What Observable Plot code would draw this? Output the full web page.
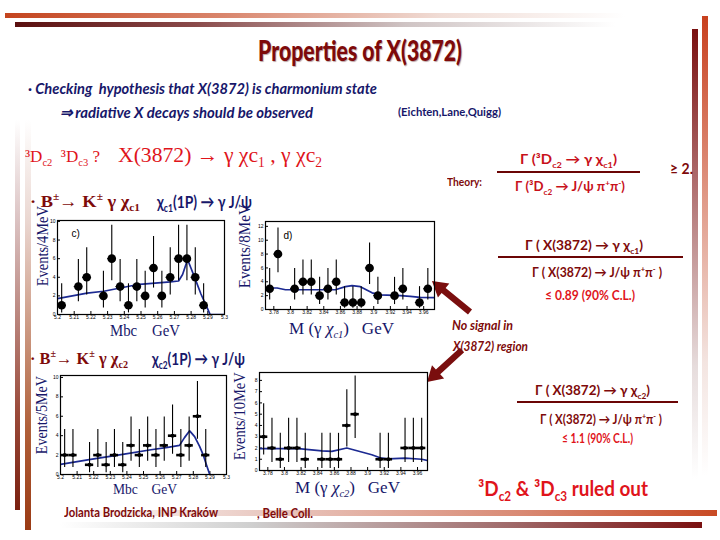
<!DOCTYPE html>
<html><head><meta charset="utf-8">
<script src="https://cdn.jsdelivr.net/npm/d3@7"></script>
<script src="https://cdn.jsdelivr.net/npm/@observablehq/plot@0.6"></script>
<style>
body{margin:0;background:#fff;}
#slide{position:relative;width:720px;height:540px;overflow:hidden;background:#fff;}
.t{position:absolute;white-space:nowrap;line-height:1.15;transform-origin:left center;}
.t sub,.t sup{font-size:0.62em;}
.deco{position:absolute;}
svg.panel{position:absolute;overflow:visible;}
</style></head><body><div id="slide"></div>
<script>
// ---------- DATA ----------
// panel c) B+- -> K+- gamma chi_c1, Mbc (GeV)
const cX  = [5.2025,5.2125,5.2175,5.2275,5.2325,5.2375,5.2425,5.2475,5.2525,5.2575,5.2625,5.2675,5.2725,5.2775,5.2825,5.2875];
const cN  = [1,3,4,2,6,3,1,3,2,5,2,4,6,6,4,1];
const cLo = [0.17,1.37,2.09,0.71,3.62,1.37,0.17,1.37,0.71,2.84,0.71,2.09,3.62,3.62,2.09,0.17];
const cHi = [3.3,5.92,7.16,4.64,9.58,5.92,3.3,5.92,4.64,8.38,4.64,7.16,9.58,9.58,7.16,3.3];
const cFitX = [5.2,5.2177,5.2277,5.2474,5.2675,5.2725,5.2749,5.2779,5.2799,5.2825,5.2859,5.2889,5.2914,5.3];
const cFitY = [1.7,2.3,2.5,3.2,3.5,3.6,4.3,5.9,5.0,3.8,2.2,1.0,0,0];
// panel d) M(gamma chi_c1) (GeV)
const dX  = [3.775,3.785,3.805,3.815,3.825,3.835,3.845,3.855,3.865,3.875,3.885,3.895,3.905,3.925,3.935,3.955,3.965];
const dN  = [3,8,3,4,4,2,3,4,1,1,1,6,2,2,3,1,3];
const dLo = [1.37,5.32,1.37,2.09,2.09,0.71,1.37,2.09,0.17,0.17,0.17,3.62,0.71,0.71,1.37,0.17,1.37];
const dHi = [5.92,11.77,5.92,7.16,7.16,4.64,5.92,7.16,3.3,3.3,3.3,9.58,4.64,4.64,5.92,3.3,5.92];
const dFitX = [3.77,3.784,3.794,3.854,3.866,3.874,3.884,3.898,3.908,3.932,3.944,3.956,3.973];
const dFitY = [3.1,3.1,2.85,2.85,3.3,3.45,3.3,2.4,2.1,2.0,1.9,1.75,1.7];
// panel e) B+- -> K+- gamma chi_c2, Mbc (GeV)
const eX  = [5.2025,5.2075,5.2175,5.2225,5.2275,5.2325,5.2375,5.2425,5.2475,5.2525,5.2575,5.2625,5.2675,5.2725,5.2775,5.2825,5.2875];
const eN  = [2,2,1,2,1,2,1,3,2,3,2,3,4,2,3,6,2];
const eLo = [0.71,0.71,0.17,0.71,0.17,0.71,0.17,1.37,0.71,1.37,0.71,1.37,2.09,0.71,1.37,3.62,0.71];
const eHi = [4.64,4.64,3.3,4.64,3.3,4.64,3.3,5.92,4.64,5.92,4.64,5.92,7.16,4.64,5.92,9.58,4.64];
const eFitX = [5.2,5.2182,5.2384,5.2545,5.2646,5.2717,5.2747,5.2778,5.2808,5.2838,5.2859,5.2879,5.2899];
const eFitY = [1.05,1.55,2.1,2.55,2.8,3.0,3.8,4.5,3.9,2.9,2.05,1.0,0];
// panel f) M(gamma chi_c2) (GeV)
const fX  = [3.775,3.785,3.795,3.805,3.815,3.825,3.845,3.855,3.865,3.875,3.885,3.915,3.925,3.945,3.955,3.965];
const fN  = [3,2,1,2,2,1,1,1,1,4,5,1,1,2,2,2];
const fLo = [1.37,0.71,0.17,0.71,0.71,0.17,0.17,0.17,0.17,2.09,2.84,0.17,0.17,0.71,0.71,0.71];
const fHi = [5.92,4.64,3.3,4.64,4.64,3.3,3.3,3.3,3.3,7.16,8.38,3.3,3.3,4.64,4.64,4.64];
const fFitX = [3.77,3.817,3.845,3.857,3.875,3.885,3.905,3.915,3.925,3.945,3.965,3.972];
const fFitY = [1.95,1.95,1.75,1.7,2.0,1.8,1.4,1.13,1.04,1.1,1.0,0.9];
// tick labels
const mbcTicks = [5.2,5.21,5.22,5.23,5.24,5.25,5.26,5.27,5.28,5.29,5.3];
const mTicks   = [3.78,3.8,3.82,3.84,3.86,3.88,3.9,3.92,3.94,3.96];
const yTicks10 = [0,2,4,6,8,10];
const yTicks12 = [0,2,4,6,8,10,12];
const yTicks8  = [0,1,2,3,4,5,6,7,8];

// ---------- slide ----------
const slide = document.getElementById("slide");
const DR = "#7e0a0a", RED = "#e0141b", NAVY = "#17176a";
const HW = "'Lato','Noto Sans',sans-serif", SER = "'Liberation Serif','DejaVu Serif',serif";

function deco(l,t,w,h,bg){const d=document.createElement("div");d.className="deco";
  Object.assign(d.style,{left:l+"px",top:t+"px",width:w+"px",height:h+"px",background:bg});slide.appendChild(d);}
deco(5,13,620,5,"linear-gradient(to right,#c4441e,#d9856c 35%,#f0dcd5 70%,rgba(255,255,255,0))");
deco(15,22,600,5,"linear-gradient(to right,#5a0f0f,#8a4a4a 30%,#cfc4c4 65%,rgba(255,255,255,0))");
deco(692,29,6,450,"linear-gradient(to bottom,#7a1010,#b07070 35%,#e6dcdc 75%,rgba(255,255,255,0))");
deco(702,16,6,460,"linear-gradient(to bottom,#c8401e,#e09a88 40%,#f3e4e0 75%,rgba(255,255,255,0))");
deco(15,120,5,390,"linear-gradient(to bottom,rgba(255,255,255,0),#dcc4c4 25%,#9a4a3a 75%,#7a2010)");
deco(25,120,6,410,"linear-gradient(to bottom,rgba(255,255,255,0),#ead6d0 25%,#b0603a 75%,#9a3a14)");
deco(60,510,657,6,"linear-gradient(to right,rgba(255,255,255,0),#eacbc4 30%,#d98a74 70%,#c84a24)");
deco(60,522,642,6,"linear-gradient(to right,rgba(255,255,255,0),#cfcfcf 30%,#a06a6a 70%,#7a1010)");

function txt(html,x1,x2,yc,size,color,font,weight,style,extra){
  const s=document.createElement("div");s.className="t";s.innerHTML=html;
  Object.assign(s.style,{fontSize:size+"px",color,fontFamily:font,fontWeight:weight||400,fontStyle:style||"normal",left:x1+"px",top:"0px"});
  if(extra)Object.assign(s.style,extra);
  slide.appendChild(s);
  const r=s.getBoundingClientRect();
  s.style.top=(yc-r.height/2)+"px";
  s.style.transform="scaleX("+((x2-x1)/r.width)+")";
}
function vtxt(html,cx,cy,len,size,color,font){
  const s=document.createElement("div");s.className="t";s.innerHTML=html;
  Object.assign(s.style,{fontSize:size+"px",color,fontFamily:font,left:"0px",top:"0px",transformOrigin:"center center"});
  slide.appendChild(s);
  const r=s.getBoundingClientRect();
  s.style.left=(cx-r.width/2)+"px";s.style.top=(cy-r.height/2)+"px";
  s.style.transform="rotate(-90deg) scaleX("+(len/r.width)+")";
}
function hbar(x1,x2,y,color){deco(x1,y-1,x2-x1,2,color);}

txt("Properties of X(3872)",258,462,50,28,DR,HW,900,"normal",{textShadow:"1px 1px 1px rgba(60,0,0,0.35)"});
txt("· Checking&nbsp; hypothesis that X(3872) is charmonium state",28,377,88,16,NAVY,HW,700,"italic");
txt("⇒ radiative X decays should be observed",60,313,112,16,NAVY,HW,700,"italic");
txt("(Eichten,Lane,Quigg)",398,501,112,12,NAVY,HW,700);
txt("³D<sub>c2</sub>&nbsp; ³D<sub>c3</sub> ?",25,100,158,17,RED,SER,400);
txt("X(3872) → γ χc<sub>1</sub> , γ χc<sub>2</sub>",118,322,157,22,RED,SER,400);
txt("· B<sup>±</sup>→ K<sup>±</sup> γ χ<sub>c1</sub>",30,140,203,17,DR,SER,700);
txt("χ<sub>c1</sub>(1P) → γ J/ψ",157,252,203,17,NAVY,HW,700);
txt("Mbc&nbsp;&nbsp;&nbsp; GeV",110,180,331,17,NAVY,SER,400);
txt("M (γ <i>χ<sub>c1</sub></i>)&nbsp;&nbsp; GeV",289,394,330,17,NAVY,SER,400);
txt("· B<sup>±</sup>→ K<sup>±</sup> γ χ<sub>c2</sub>",30,128,360,17,DR,SER,700);
txt("χ<sub>c2</sub>(1P) → γ J/ψ",152,245,360,17,NAVY,HW,700);
txt("Mbc&nbsp;&nbsp;&nbsp; GeV",113,177,490,15,NAVY,SER,400);
txt("M (γ <i>χ<sub>c2</sub></i>)&nbsp;&nbsp; GeV",295,400,489,16,NAVY,SER,400);
txt("Jolanta Brodzicka, INP Kraków",64,218,512,14,DR,HW,700);
txt(", Belle Coll.",257,313,513,14,DR,HW,700);
vtxt("Events/4MeV",43,246,80,16,NAVY,SER);
vtxt("Events/8MeV",245,246,84,16,NAVY,SER);
vtxt("Events/5MeV",42,415,78,16,NAVY,SER);
vtxt("Events/10MeV",240,416,88,16,NAVY,SER);

txt("Theory:",447,482,182,12,DR,HW,700);
txt("Γ (³D<sub>c2</sub> → γ χ<sub>c1</sub>)",520,617,161,13,"#c8101a",HW,700);
hbar(497,640,172,"#6b0505");
txt("Γ (³D<sub>c2</sub> → J/ψ π<sup>+</sup>π<sup>-</sup>)",515,625,188,13,"#c8101a",HW,700);
txt("≥ 2.",670,693,169,15,DR,HW,700);
txt("Γ ( X(3872) → γ χ<sub>c1</sub>)",525,643,247,13,DR,HW,700);
hbar(498,683,257,"#6b0505");
txt("Γ ( X(3872) → J/ψ π<sup>+</sup>π<sup>-</sup> )",532,662,273,13,DR,HW,700);
txt("≤ 0.89 (90% C.L.)",545,635,295,13,RED,HW,700);
txt("No signal in",452,513,325,13,DR,HW,700,"italic");
txt("X(3872) region",453,528,346,13,DR,HW,700,"italic");
txt("Γ ( X(3872) → γ χ<sub>c2</sub>)",535,650,392,13,DR,HW,700);
hbar(517,678,402,"#6b0505");
txt("Γ ( X(3872) → J/ψ π<sup>+</sup>π<sup>-</sup> )",540,662,420,13,DR,HW,700);
txt("≤ 1.1 (90% C.L.)",562,633,438,13,RED,HW,700);
txt("³D<sub>c2</sub> &amp; ³D<sub>c3</sub> ruled out",478,648,491,20,RED,HW,700);

// arrows
const NS="http://www.w3.org/2000/svg";
const asvg=document.createElementNS(NS,"svg");
asvg.setAttribute("width",720);asvg.setAttribute("height",540);
Object.assign(asvg.style,{position:"absolute",left:"0px",top:"0px",pointerEvents:"none"});
function arrow(tx,ty,hx,hy){
  const dx=hx-tx,dy=hy-ty,L=Math.hypot(dx,dy),ux=dx/L,uy=dy/L,nx=-uy,ny=ux;
  const sw=3.2,hw=9,hl=15,bx=hx-ux*hl,by=hy-uy*hl;
  const P=[[tx+nx*sw,ty+ny*sw],[bx+nx*sw,by+ny*sw],[bx+nx*hw,by+ny*hw],[hx,hy],[bx-nx*hw,by-ny*hw],[bx-nx*sw,by-ny*sw],[tx-nx*sw,ty-ny*sw]];
  const p=document.createElementNS(NS,"polygon");
  p.setAttribute("points",P.map(q=>q.join(",")).join(" "));p.setAttribute("fill","#7a0e0e");
  asvg.appendChild(p);
}
arrow(470,312,432,281);
arrow(462,350,427,382);
slide.appendChild(asvg);

// ---------- panels ----------
function panel(o){
  const mL=12,mR=6,mT=3,mB=8;
  const W=o.right-o.left+mL+mR,H=o.bottom-o.top+mT+mB;
  const pts=o.X.map((x,i)=>({x,n:o.N[i],lo:o.lo[i],hi:o.hi[i]}));
  const fit=o.fitX.map((x,i)=>({x,y:o.fitY[i]}));
  const fmt=d=>String(+d.toFixed(2));
  const marks=[
    Plot.line(fit,{x:"x",y:"y",stroke:"#1c2a92",strokeWidth:1.7,clip:true}),
    Plot.ruleX(pts,{x:"x",y1:"lo",y2:"hi",stroke:"black",strokeWidth:1.1}),
    Plot.ruleY(pts,{y:"n",x1:d=>d.x-o.half,x2:d=>d.x+o.half,stroke:"black",strokeWidth:o.round?1.1:2.6}),
    Plot.dot(pts,{x:"x",y:"n",r:o.round?4.3:2,fill:"black"}),
    Plot.frame({stroke:"black",strokeWidth:1.2})
  ];
  if(o.label)marks.push(Plot.text([o.label],{frameAnchor:"top-left",dx:o.ldx,dy:o.ldy,text:d=>d,fontSize:10,fill:"black",fontFamily:"Liberation Sans"}));
  const p=Plot.plot({width:W,height:H,marginLeft:mL,marginRight:mR,marginTop:mT,marginBottom:mB,
    x:{domain:o.xDomain,ticks:o.xTicks,tickFormat:fmt,tickSize:-3,tickPadding:4,label:null},
    y:{domain:o.yDomain,ticks:o.yTicks,tickFormat:fmt,tickSize:-3,tickPadding:5,label:null},
    style:{fontSize:"5px",background:"transparent",fontFamily:"Liberation Sans",color:"black"},
    marks});
  p.classList.add("panel");
  p.style.left=(o.left-mL)+"px";p.style.top=(o.top-mT)+"px";
  slide.appendChild(p);
}
panel({left:57,top:220,right:224,bottom:314,xDomain:[5.2,5.3],yDomain:[0,10.1],xTicks:mbcTicks,yTicks:yTicks10,
  X:cX,N:cN,lo:cLo,hi:cHi,half:0.0025,fitX:cFitX,fitY:cFitY,round:true,label:"c)",ldx:14,ldy:9});
panel({left:265,top:221,right:434,bottom:309,xDomain:[3.77,3.973],yDomain:[0,12.7],xTicks:mTicks,yTicks:yTicks12,
  X:dX,N:dN,lo:dLo,hi:dHi,half:0.005,fitX:dFitX,fitY:dFitY,round:true,label:"d)",ldx:18,ldy:10});
panel({left:60,top:375,right:226,bottom:474,xDomain:[5.2,5.3],yDomain:[0,10.2],xTicks:mbcTicks,yTicks:yTicks10,
  X:eX,N:eN,lo:eLo,hi:eHi,half:0.0025,fitX:eFitX,fitY:eFitY,round:false});
panel({left:259,top:372,right:427,bottom:470,xDomain:[3.77,3.972],yDomain:[0,8.7],xTicks:mTicks,yTicks:yTicks8,
  X:fX,N:fN,lo:fLo,hi:fHi,half:0.005,fitX:fFitX,fitY:fFitY,round:false});
</script></body></html>
